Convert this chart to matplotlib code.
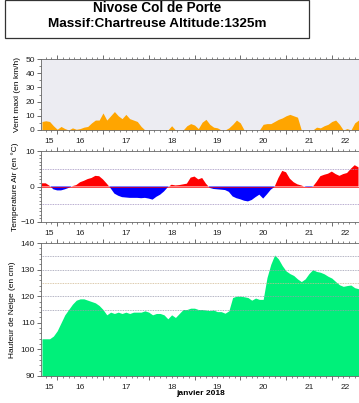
import numpy as np
import pandas as pd
import matplotlib
matplotlib.use('Agg')
import matplotlib.pyplot as plt
import matplotlib.dates as mdates
import matplotlib.transforms as mtransforms
from matplotlib.ticker import MultipleLocator

plt.rcParams['font.family'] = ['Liberation Sans', 'DejaVu Sans']

# 2-hourly samples from 15 Jan 2018 16:00
times = pd.date_range('2018-01-15 16:00', periods=84, freq='2h')

wind = [6, 6.5, 6, 3, 0.5, 2.5, 1, 0, 1.5, 0.5, 1, 2, 2.5, 5, 7, 7, 12, 7, 10, 13,
        10, 8, 11, 8, 7, 6, 2.5, 0, 0, 0, 0, 0, 0, 0, 3, 0, 0, 0, 3, 4.5,
        3.5, 1, 5.5, 7.5, 4, 2, 1.5, 0, 0, 1.5, 4, 7, 5, 0, 0, 0, 0, 0, 4, 4.5,
        4.5, 6, 7.5, 8.5, 10, 11, 10, 9, 0, 0, 0, 0, 2, 1.5, 3, 4, 6, 7, 4, 0,
        1, 0, 5, 7]

temp = [0.9, 0.9, 0.2, -0.8, -1.1, -1.1, -0.8, -0.4, 0.1, 0.4, 1.2, 1.6, 2.1, 2.4, 3.0, 2.9,
        2.0, 0.8, -0.5, -2.0, -2.6, -3.0, -3.1, -3.2, -3.2, -3.2, -3.3, -3.2, -3.4, -3.7, -2.9,
        -2.3, -1.4, -0.2, 0.5, 0.3, 0.4, 0.6, 0.8, 2.5, 2.8, 2.0, 2.4, 0.8, -0.4, -0.7, -0.8,
        -0.9, -1.0, -1.5, -2.8, -3.3, -3.6, -4.0, -4.2, -3.8, -3.0, -2.3, -3.4, -2.2, -0.9, -0.1,
        2.4, 4.4, 4.0, 2.2, 1.2, 0.6, 0.3, -0.1, -0.2, -0.1, 1.3, 2.9, 3.3, 3.6, 4.2, 3.5, 3.0,
        3.5, 3.8, 5.0, 6.0, 5.4]

snow = [104, 104, 104, 105, 107, 110, 113, 115, 117, 118.5, 119, 119, 118.5, 118, 117.5, 116.5,
        115, 113, 114, 113.5, 114, 113.5, 114, 113.5, 114, 114, 114, 114.5, 114, 113, 113.5,
        113.5, 113, 111.5, 113, 112, 113.5, 115, 115, 115.5, 115.5, 115, 115, 114.8, 114.6,
        114.8, 114.2, 114.2, 113.6, 114.5, 119.5, 120, 120, 119.8, 119.5, 118.5, 119.3, 118.8,
        118.8, 127, 132, 135.5, 134, 131.5, 129.5, 128.5, 127.8, 126.5, 125.5, 126.5, 128.5,
        130, 129.3, 129, 128.4, 127.5, 126.8, 125.5, 124.3, 123.7, 124, 124.2, 123.2, 122.8]

days = [15, 16, 17, 18, 19, 20, 21, 22]

xmin = pd.Timestamp('2018-01-15 15:30')
xmax = pd.Timestamp('2018-01-22 14:15')

fig = plt.figure(figsize=(3.59, 4.03), dpi=100)

# title box
fig.patches.append(plt.Rectangle((5 / 359, 1 - 38 / 403), 304 / 359, 37.5 / 403,
                                 transform=fig.transFigure, fill=False,
                                 edgecolor='#333333', lw=0.9))
fig.text(157 / 359, 1 - 8 / 403, 'Nivose Col de Porte', ha='center', va='center',
         fontsize=9.8, fontweight='bold')
fig.text(157 / 359, 1 - 24 / 403, 'Massif:Chartreuse Altitude:1325m', ha='center',
         va='center', fontsize=9.7, fontweight='bold')

L, W = 41 / 359, 318 / 359
ax1 = fig.add_axes([L, 1 - 130 / 403, W, 71 / 403])
ax2 = fig.add_axes([L, 1 - 222 / 403, W, 71 / 403])
ax3 = fig.add_axes([L, 1 - 376 / 403, W, 133 / 403])

x = mdates.date2num(times)
t = np.array(temp)

ax1.set_facecolor('#ececf2')
ax1.fill_between(x, 0, wind, color='#ffa500', lw=0)
ax1.set_ylim(0, 50)
ax1.yaxis.set_major_locator(MultipleLocator(10))
ax1.yaxis.set_minor_locator(MultipleLocator(5))
ax1.set_ylabel('Vent maxi (en km/h)', fontsize=6, labelpad=3)

for yv in (5, -5):
    ax2.axhline(yv, color='#a090c0', lw=0.6, ls=(0, (1, 1)))
ax2.fill_between(x, 0, t, where=t >= 0, interpolate=True, color='#ff0000', lw=0)
ax2.fill_between(x, 0, t, where=t <= 0, interpolate=True, color='#0000ff', lw=0)
ax2.axhline(0, color='#ff0000', lw=0.5)
ax2.set_ylim(-10, 10)
ax2.yaxis.set_major_locator(MultipleLocator(10))
ax2.yaxis.set_minor_locator(MultipleLocator(1))
ax2.set_ylabel('Temperature Air (en °C)', fontsize=6, labelpad=1)

for yv in (115, 120, 130, 135):
    ax3.axhline(yv, color='#9a9ab0', lw=0.6, ls=(0, (1, 1)))
ax3.axhline(125, color='#d0b890', lw=0.6, ls=(0, (1, 1)))
ax3.fill_between(x, 90, snow, color='#00f07a', lw=0)
ax3.set_ylim(90, 140)
ax3.yaxis.set_major_locator(MultipleLocator(10))
ax3.yaxis.set_minor_locator(MultipleLocator(2))
ax3.set_ylabel('Hauteur de Neige (en cm)', fontsize=6, labelpad=3)
ax3.text(0.5, -0.135, 'janvier 2018', transform=ax3.transAxes, ha='center', va='center',
         fontsize=6, fontweight='bold')

lo, hi = mdates.date2num(xmin), mdates.date2num(xmax)
for ax in (ax1, ax2, ax3):
    ax.set_xlim(lo, hi)
    ax.xaxis.set_major_locator(mdates.DayLocator())
    ax.xaxis.set_minor_locator(mdates.HourLocator(byhour=range(0, 24, 3)))
    ax.xaxis.set_major_formatter(plt.NullFormatter())
    ax.tick_params(axis='x', which='both', top=True, bottom=True, direction='out',
                   colors='#555555')
    ax.tick_params(axis='x', which='major', length=3, width=0.6)
    ax.tick_params(axis='x', which='minor', length=1.5, width=0.5)
    ax.tick_params(axis='y', which='major', length=3, width=0.6, labelsize=6,
                   colors='#555555', labelcolor='#222222', pad=1.5)
    ax.tick_params(axis='y', which='minor', length=1.5, width=0.5, colors='#555555')
    for s in ax.spines.values():
        s.set_color('#666666')
        s.set_linewidth(0.6)
    # day labels, centred on the visible part of each day
    trans = mtransforms.blended_transform_factory(ax.transData, ax.transAxes)
    for d in days:
        a = max(mdates.date2num(pd.Timestamp(2018, 1, d)), lo)
        b = min(mdates.date2num(pd.Timestamp(2018, 1, d) + pd.Timedelta(days=1)), hi)
        ax.text((a + b) / 2, -0.06 if ax is ax3 else -0.11, str(d), transform=trans,
                ha='center', va='top', fontsize=6, color='#222222')

fig.savefig('out.png', dpi=100)
